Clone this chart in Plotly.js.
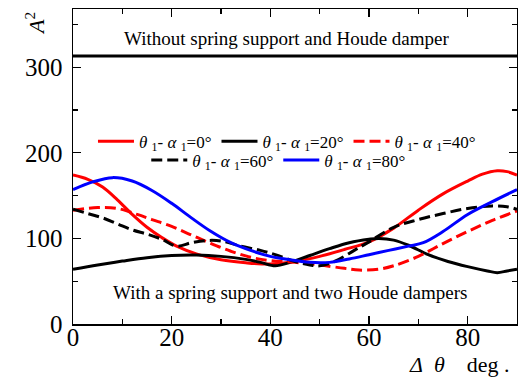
<!DOCTYPE html>
<html><head><meta charset="utf-8">
<script src="https://cdn.plot.ly/plotly-3.0.1.min.js"></script>
<style>html,body{margin:0;padding:0;background:#fff}</style>
</head><body><div id="chart" style="width:518px;height:380px"></div>
<script>
// Δθ (deg) and A^2 values
const x0 = [0, 3, 6, 9, 12, 15, 18, 21, 25, 30, 35, 40, 45, 50, 55, 60, 65, 70, 75, 80, 83, 86, 88, 90];
const y0 = [174, 169, 160, 145, 128, 113, 101, 91, 82, 75, 71.5, 70, 73, 79, 87, 96, 112, 133, 152, 167, 175, 179, 178, 174];

const x20 = [0, 5, 10, 15, 20, 25, 30, 35, 38, 41, 44, 48, 52, 56, 60, 62, 65, 68, 72, 76, 80, 84, 86, 88, 90];
const y20 = [64, 69, 73.5, 77.5, 80, 80.5, 79, 75.5, 72, 68, 72, 80, 88, 95, 99, 100, 98, 92, 81, 73, 67, 62, 60, 62, 64];

const x40 = [0, 5, 9, 13, 16, 20, 24, 28, 32, 36, 40, 45, 50, 55, 58, 62, 65, 70, 75, 80, 85, 90];
const y40 = [133, 136, 135, 128, 122, 114, 104, 94, 85, 78, 74, 72, 69, 65, 63, 64, 68, 79, 94, 108, 121, 132];

const x60 = [0, 3, 6, 9, 12, 15, 18, 21, 24, 27, 30, 34, 38, 41, 45, 48, 50, 53, 57, 60, 65, 70, 75, 80, 85, 88, 90];
const y60 = [134, 129, 124, 117, 110, 105, 99, 91, 95, 97.5, 97, 91, 86, 81, 73, 69, 68, 73, 86, 96, 113, 122, 129, 135, 138, 137, 134];

const x80 = [0, 4, 8, 12, 16, 20, 24, 28, 32, 36, 40, 44, 48, 52, 56, 60, 64, 68, 71, 75, 80, 85, 90];
const y80 = [157, 166, 171, 167, 156, 141, 124, 108, 95, 86, 79, 75, 72, 72, 76, 81, 86, 91, 95, 108, 128, 143, 157];

// reference case without spring support and Houde damper
const xBase = [0, 90];
const yBase = [313, 313];

const names = [
  '<i>θ</i> <sub>1</sub>- <i>α</i> <sub>1</sub>=0°',
  '<i>θ</i> <sub>1</sub>- <i>α</i> <sub>1</sub>=20°',
  '<i>θ</i> <sub>1</sub>- <i>α</i> <sub>1</sub>=40°',
  '<i>θ</i> <sub>1</sub>- <i>α</i> <sub>1</sub>=60°',
  '<i>θ</i> <sub>1</sub>- <i>α</i> <sub>1</sub>=80°'
];

const FONT = '"Liberation Serif", "Times New Roman", Times, serif';
const LW = 3;
const dashP = '11px,5px';

const traces = [
  {x: x0, y: y0, name: names[0], legend: 'legend', mode: 'lines', line: {color: '#ff0000', width: LW, shape: 'spline'}},
  {x: x20, y: y20, name: names[1], legend: 'legend', mode: 'lines', line: {color: '#000000', width: LW, shape: 'spline'}},
  {x: x40, y: y40, name: names[2], legend: 'legend', mode: 'lines', line: {color: '#ff0000', width: LW, dash: dashP, shape: 'spline'}},
  {x: x60, y: y60, name: names[3], legend: 'legend2', mode: 'lines', line: {color: '#000000', width: LW, dash: dashP, shape: 'spline'}},
  {x: x80, y: y80, name: names[4], legend: 'legend2', mode: 'lines', line: {color: '#0000ff', width: LW, shape: 'spline'}},
  {x: xBase, y: yBase, showlegend: false, mode: 'lines', line: {color: '#000000', width: LW}}
];

const axisCommon = {
  showline: true, linecolor: '#000', linewidth: 1.5, mirror: 'ticks',
  ticks: 'inside', ticklen: 8, tickwidth: 1.3, tickcolor: '#000',
  showgrid: false, zeroline: false,
  tickfont: {family: FONT, size: 25, color: '#000'}
};

const layout = {
  width: 518, height: 380,
  margin: {l: 73, r: 1, t: 9, b: 56},
  paper_bgcolor: '#fff', plot_bgcolor: '#fff',
  font: {family: FONT, color: '#000'},
  xaxis: Object.assign({}, axisCommon, {
    range: [0, 90], dtick: 20, tick0: 0, ticklabelstandoff: -10,
    minor: {dtick: 10, ticks: 'inside', ticklen: 5, tickwidth: 1.3, tickcolor: '#000', showgrid: false}
  }),
  yaxis: Object.assign({}, axisCommon, {
    range: [0, 368], dtick: 100, tick0: 0, ticklabelstandoff: 4,
    minor: {dtick: 50, ticks: 'inside', ticklen: 5, tickwidth: 1.3, tickcolor: '#000', showgrid: false}
  }),
  legend: {
    orientation: 'h', x: 0.045, xanchor: 'left', y: 0.579, yanchor: 'middle',
    bgcolor: 'rgba(0,0,0,0)', font: {family: FONT, size: 17, color: '#000'},
    itemwidth: 36, tracegroupgap: 0
  },
  legend2: {
    orientation: 'h', x: 0.165, xanchor: 'left', y: 0.519, yanchor: 'middle',
    bgcolor: 'rgba(0,0,0,0)', font: {family: FONT, size: 17, color: '#000'},
    itemwidth: 36, tracegroupgap: 0
  },
  annotations: [
    {text: 'Without spring support and Houde damper', xref: 'x', yref: 'y', x: 43.3, y: 333,
     xanchor: 'center', yanchor: 'middle',
     showarrow: false, font: {family: FONT, size: 19, color: '#000'}},
    {text: 'With a spring support and two Houde dampers', xref: 'x', yref: 'y', x: 43.9, y: 37,
     xanchor: 'center', yanchor: 'middle',
     showarrow: false, font: {family: FONT, size: 19, color: '#000'}},
    {text: '<i>A</i><sup>2</sup>', xref: 'paper', yref: 'paper', x: -0.086, y: 0.955,
     xanchor: 'center', yanchor: 'middle',
     textangle: -90, showarrow: false, font: {family: FONT, size: 22, color: '#000'}},
    {text: '<i>Δ</i>\u00A0\u00A0<i>θ</i>\u00A0\u00A0\u00A0\u00A0deg .', xref: 'paper', yref: 'paper', x: 0.871, y: -0.128,
     xanchor: 'center', yanchor: 'middle',
     showarrow: false, font: {family: FONT, size: 22, color: '#000'}}
  ]
};

Plotly.newPlot('chart', traces, layout, {displayModeBar: false, staticPlot: true});
</script>
</body></html>
